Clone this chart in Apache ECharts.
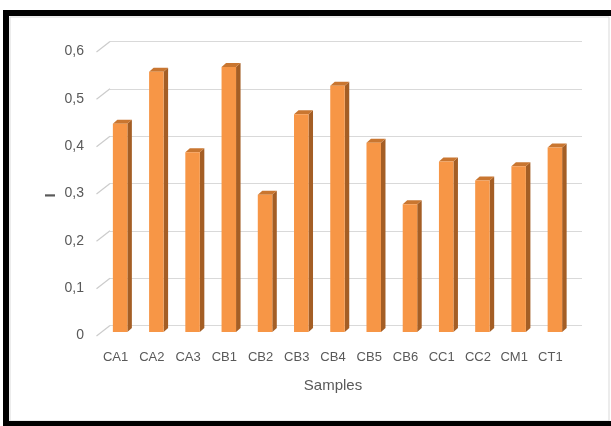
<!DOCTYPE html>
<html><head><meta charset="utf-8">
<script src="https://cdn.jsdelivr.net/npm/echarts@6/dist/echarts.min.js"></script>
<style>html,body{margin:0;padding:0;background:#fff}#c{width:611px;height:426px}</style>
</head><body><div id="c"></div>
<script>
const categories = ['CA1','CA2','CA3','CB1','CB2','CB3','CB4','CB5','CB6','CC1','CC2','CM1','CT1'];
const values = [0.44,0.55,0.38,0.56,0.29,0.46,0.52,0.40,0.27,0.36,0.32,0.35,0.39];
const yTicks = [0,0.1,0.2,0.3,0.4,0.5,0.6];
const yAxisTitle = 'I';
const xAxisTitle = 'Samples';

const chart = echarts.init(document.getElementById('c'), null, {renderer:'canvas'});
const FRONT = '#F79646', SIDE = '#A45E25', TOP = '#C97630';
const txt = '#595959', font = 'Liberation Sans';

chart.setOption({
  animation:false,
  backgroundColor:'#fff',
  graphic:[
    {type:'rect', shape:{x:10,y:17,width:599,height:404}, style:{fill:'none',stroke:'#d9d9d9',lineWidth:1}, z:100},
    {type:'rect', shape:{x:6,y:13,width:720,height:411}, style:{fill:'none',stroke:'#000',lineWidth:6}, z:101}
  ],
  grid:[
    {left:102, right:38, top:48, bottom:94},
    {left:110, right:29, top:41.5, bottom:100.5},
    {left:102, right:38, top:51.5, bottom:90.5}
  ],
  xAxis:[
    {type:'category', gridIndex:0, data:categories,
     axisLine:{show:false}, axisTick:{show:false},
     axisLabel:{color:txt, fontFamily:font, fontSize:13, margin:19, padding:[0,9,0,0]},
     name:xAxisTitle, nameLocation:'middle', nameGap:46,
     nameTextStyle:{color:txt, fontFamily:font, fontSize:15, padding:[0,9,0,0]}},
    {type:'value', gridIndex:1, min:0, max:1, show:false},
    {type:'value', gridIndex:2, min:0, max:1, show:false}
  ],
  yAxis:[
    {type:'value', gridIndex:0, min:0, max:0.6, interval:0.1, show:false},
    {type:'value', gridIndex:1, min:0, max:0.6, interval:0.1,
     axisLine:{show:false}, axisTick:{show:false}, axisLabel:{show:false},
     splitLine:{show:true, lineStyle:{color:'#d9d9d9', width:1}}},
    {type:'value', gridIndex:2, min:0, max:0.6, interval:0.1,
     splitLine:{show:false}, axisLine:{show:false}, axisTick:{show:false},
     axisLabel:{color:txt, fontFamily:font, fontSize:14, margin:18,
       formatter:v=>String(Math.round(v*10)/10).replace('.',',')},
     name:yAxisTitle, nameLocation:'middle', nameGap:44, nameRotate:90, nameMoveOverlap:false,
     nameTextStyle:{color:txt, fontFamily:font, fontSize:15, fontWeight:'bold', padding:[0,4,0,0]}}
  ],
  series:[
    {type:'custom', xAxisIndex:1, yAxisIndex:1, z:1, clip:false,
     data:yTicks.map(v=>[0,v]),
     renderItem:(params, api)=>{
       const p = api.coord([0, api.value(1)]);
       return {type:'line', shape:{x1:p[0]-13.5, y1:p[1]+10.5, x2:p[0], y2:p[1]},
               style:{stroke:'#cccccc', lineWidth:1.2}};
     }},
    {type:'custom', xAxisIndex:0, yAxisIndex:0, z:5,
     data:values.map((v,i)=>[i,v]),
     renderItem:(params, api)=>{
       const b = api.coord([api.value(0), 0]);
       const t = api.coord([api.value(0), api.value(1)]);
       const w = 14.5, d = 4.5, h = 4;
       const l = b[0]-w/2, r = b[0]+w/2;
       return {type:'group', children:[
         {type:'polygon', shape:{points:[[r,t[1]],[r+d,t[1]-h],[r+d,b[1]-h],[r,b[1]]]}, style:{fill:SIDE}},
         {type:'polygon', shape:{points:[[l,t[1]],[l+d,t[1]-h],[r+d,t[1]-h],[r,t[1]]]}, style:{fill:TOP}},
         {type:'rect', shape:{x:l, y:t[1], width:w, height:b[1]-t[1]}, style:{fill:FRONT}}
       ]};
     }}
  ]
});
</script></body></html>
